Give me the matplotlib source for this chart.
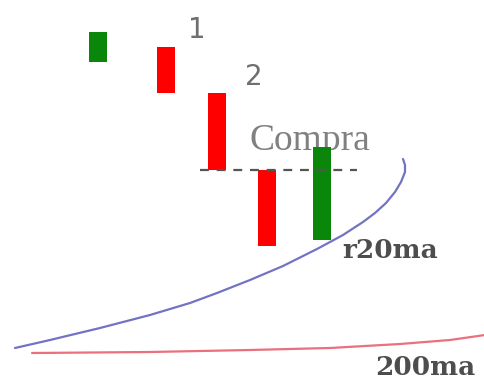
import matplotlib
matplotlib.use("Agg")
import matplotlib.pyplot as plt

# Candle bodies (pixel-space data, y downward)
candle_x = [98, 166, 217, 267, 322]
candle_top = [32, 47, 93, 170, 147]
candle_bottom = [62, 93, 170, 246, 240]
candle_dir = ["up", "down", "down", "down", "up"]

# Moving averages
ma20_x = [15, 50, 100, 150, 190, 217, 250, 283, 317, 343, 363, 375, 386, 395, 401, 405, 405, 403]
ma20_y = [348, 340, 328, 315, 303, 293, 280, 266, 249, 235, 222, 213, 203, 192, 182, 172, 165, 159]
ma200_x = [32, 150, 250, 330, 400, 450, 485]
ma200_y = [353, 352, 350, 348, 344, 340, 335]

# Breakout level
level_y = 170
level_x = [200, 357]

fig = plt.figure(figsize=(4.85, 3.86), dpi=100)
ax = fig.add_axes([0, 0, 1, 1])
ax.set_xlim(0, 485)
ax.set_ylim(386, 0)
ax.axis("off")

colors = {"up": "#0a870a", "down": "#ff0000"}
heights = [b - t for t, b in zip(candle_top, candle_bottom)]
ax.bar(candle_x, heights, bottom=candle_top, width=18.5,
       color=[colors[d] for d in candle_dir], zorder=3)

ax.plot(level_x, [level_y, level_y], color="#555555", lw=1.6,
        dashes=(4, 3.5), zorder=4)

ax.plot(ma20_x, ma20_y, color="#7373c4", lw=1.6, zorder=2,
        solid_capstyle="round", solid_joinstyle="round")
ax.plot(ma200_x, ma200_y, color="#e9707c", lw=1.6, zorder=2,
        solid_capstyle="round", solid_joinstyle="round")

ax.text(197, 38, "1", fontsize=20, color="#6f6f6f", family="DejaVu Sans",
        ha="center", va="baseline")
ax.text(254, 85, "2", fontsize=20, color="#6f6f6f", family="DejaVu Sans",
        ha="center", va="baseline")
ax.text(250, 150, "Compra", fontsize=27, color="#808080",
        family="Liberation Serif", ha="left", va="baseline", zorder=2)
ax.text(342, 258, "r20ma", fontsize=19, color="#4d4d4d",
        family="DejaVu Serif", weight="bold", ha="left", va="baseline")
ax.text(375, 375, "200ma", fontsize=19, color="#4d4d4d",
        family="DejaVu Serif", weight="bold", ha="left", va="baseline")

fig.savefig("out.png", dpi=100, facecolor="white")
